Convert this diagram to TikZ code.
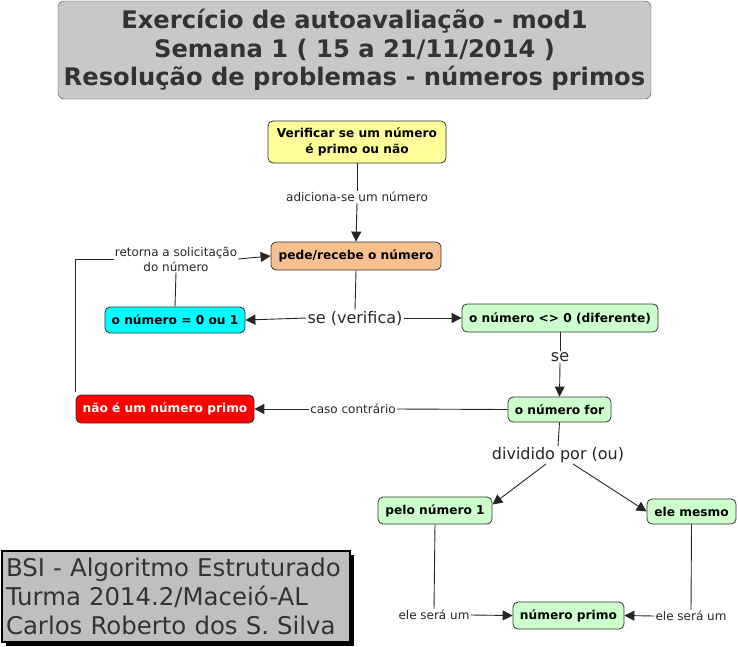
\documentclass[tikz,border=0pt]{standalone}
\usepackage{fontspec}
\setmainfont{DejaVu Sans}
\usetikzlibrary{arrows.meta,positioning,shadows}

\definecolor{titlegray}{HTML}{C8C8C8}
\definecolor{darktext}{HTML}{333333}
\definecolor{yellowbox}{HTML}{FFFF99}
\definecolor{peachbox}{HTML}{F9C08F}
\definecolor{greenbox}{HTML}{CCFFCC}
\definecolor{cyanbox}{HTML}{00FFFF}
\definecolor{redbox}{HTML}{FF0000}

\begin{document}
\begin{tikzpicture}[
  x=1pt, y=-1pt,
  title/.style={draw=black!70, rounded corners=6pt, fill=titlegray, text=darktext, align=center,
    font=\bfseries\fontsize{24.2}{28.5}\selectfont, minimum width=593pt, minimum height=98pt},
  concept/.style={draw=black!80, rounded corners=5pt, align=center, inner sep=2pt, line width=0.8pt,
    font=\bfseries\fontsize{12.2}{15.5}\selectfont},
  linkword/.style={fill=white, inner sep=1pt, align=center, text=black!85,
    font=\fontsize{12}{15}\selectfont},
  biglink/.style={linkword, font=\fontsize{16}{18}\selectfont},
  credits/.style={draw=black, line width=2.5pt, fill=gray!50, text=darktext, align=left,
    font=\fontsize{24.4}{29}\selectfont, text width=340pt, minimum height=91pt, inner xsep=4pt,
    drop shadow={shadow xshift=4pt, shadow yshift=-4pt, fill=black, opacity=1}},
  link/.style={line width=0.9pt, black!85},
  arrow/.style={link, -{Triangle[length=10pt,width=10pt]}}
]
\useasboundingbox (0,0) rectangle (738,646);

% title and credits
\node[title] (title) at (354.5,50) {Exercício de autoavaliação - mod1\\Semana 1 ( 15 a 21/11/2014 )\\Resolução de problemas - números primos};
\node[credits] (credits) at (176,596.5) {BSI - Algoritmo Estruturado\\Turma 2014.2/Maceió-AL\\Carlos Roberto dos S. Silva};

% concepts
\node[concept, fill=yellowbox, minimum width=178pt, minimum height=42pt] (verif) at (357,142) {Verificar se um número\\é primo ou não};
\node[concept, fill=peachbox, minimum width=170pt, minimum height=28pt] (pede) at (356,256) {pede/recebe o número};
\node[concept, fill=cyanbox, minimum width=140pt, minimum height=26pt] (zero) at (175,320) {o número = 0 ou 1};
\node[concept, fill=greenbox, minimum width=196pt, minimum height=28pt] (dif) at (560,318) {o número <> 0 (diferente)};
\node[concept, fill=redbox, text=white, minimum width=178pt, minimum height=28pt] (naoprimo) at (165,409) {não é um número primo};
\node[concept, fill=greenbox, minimum width=103pt, minimum height=25pt] (numfor) at (559.5,409.5) {o número for};
\node[concept, fill=greenbox, minimum width=114pt, minimum height=27pt] (pelo) at (435,510.5) {pelo número 1};
\node[concept, fill=greenbox, minimum width=89pt, minimum height=25pt] (mesmo) at (691.5,511.5) {ele mesmo};
\node[concept, fill=greenbox, minimum width=111pt, minimum height=27pt] (primo) at (568.5,615.5) {número primo};

% linking words
\node[linkword] (ladd) at (357,197) {adiciona-se um número};
\node[linkword] (lret) at (176,259) {retorna a solicitação\\do número};
\node[biglink] (lse) at (355,318) {se (verifica)};
\node[biglink] (lse2) at (560,357) {se};
\node[linkword] (lcaso) at (353,409) {caso contrário};
\node[biglink] (ldiv) at (558,455) {dividido por (ou)};
\node[linkword] (lsera) at (434,615) {ele será um};
\node[linkword] (lserb) at (691,616) {ele será um};

% connectors
\draw[link] (verif.south) -- (ladd.north);
\draw[arrow] (ladd.south) -- (pede.north);
\draw[link] (pede.south) -- (lse.north);
\draw[arrow] (lse.west) -- (zero.east);
\draw[arrow] (lse.east) -- (dif.west);
\draw[link] (zero.north) -- (lret.south);
\draw[link] ([yshift=3pt]naoprimo.north west) |- (lret.west);
\draw[arrow] (lret.east) -- (pede.west);
\draw[link] (dif.south) -- (lse2.north);
\draw[arrow] (lse2.south) -- (numfor.north);
\draw[link] (numfor.west) -- (lcaso.east);
\draw[arrow] (lcaso.west) -- (naoprimo.east);
\draw[link] (numfor.south) -- (ldiv.north);
\draw[arrow] ([xshift=-12pt]ldiv.south) -- ([yshift=6pt]pelo.east);
\draw[arrow] ([xshift=15pt]ldiv.south) -- (mesmo.west);
\draw[link] (pelo.south) -- (lsera.north);
\draw[arrow] (lsera.east) -- (primo.west);
\draw[link] (mesmo.south) -- (lserb.north);
\draw[arrow] (lserb.west) -- (primo.east);
\end{tikzpicture}
\end{document}
